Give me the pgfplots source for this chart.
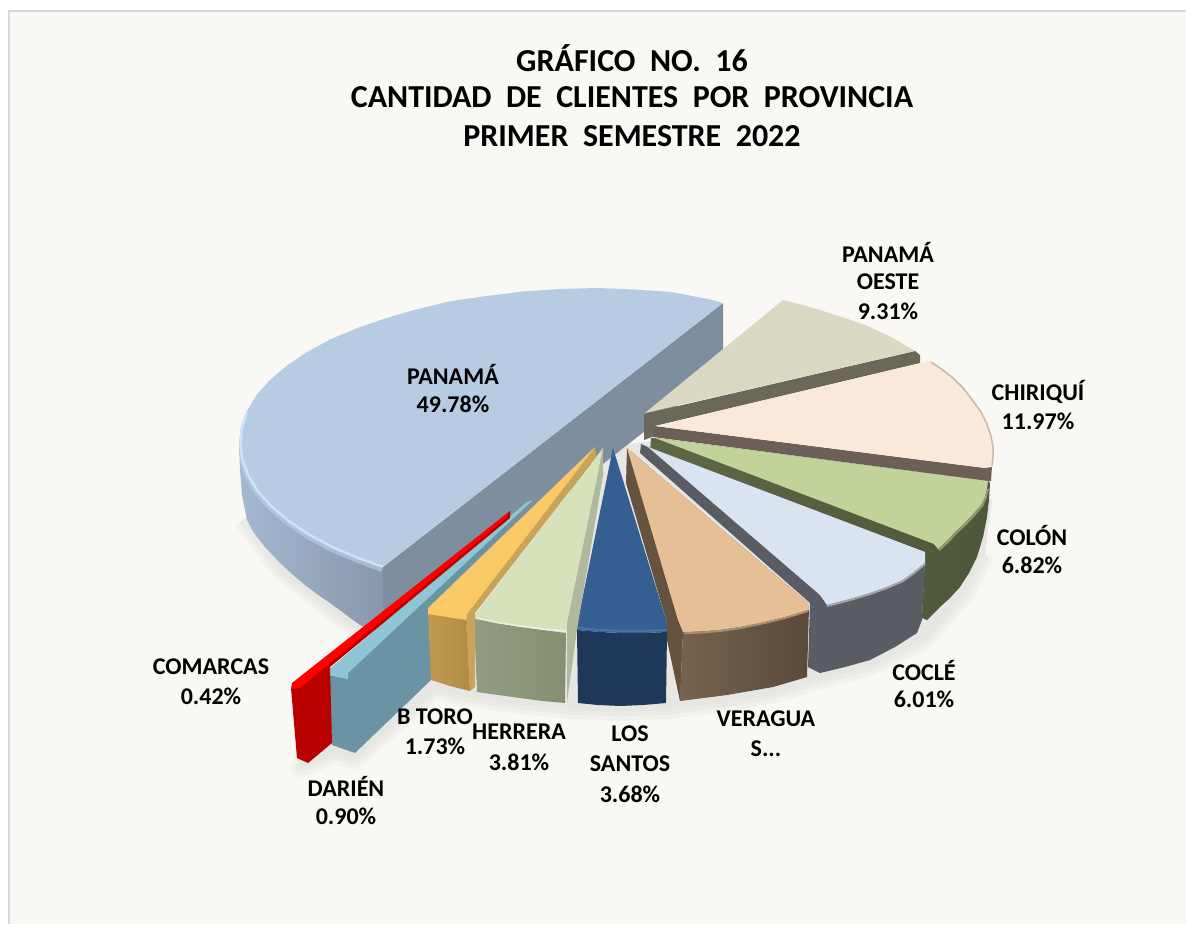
\documentclass[border=0pt]{standalone}
\usepackage{pgfplots}
\pgfplotsset{compat=1.18}
\usepackage{fontspec}
\setmainfont{Carlito}
\newcommand{\dc}[1]{\definecolor{c#1}{HTML}{#1}}
\dc{A5B8D2}\dc{8897AC}\dc{7F8E9F}\dc{B7CCE2}\dc{CDE1F8}\dc{6B685A}\dc{DAD8C3}\dc{6B5F57}\dc{FAE9DB}\dc{C9B9AB}
\dc{5E6746}\dc{4F573A}\dc{C1D398}\dc{595C62}\dc{DAE4F1}\dc{9FA6B0}\dc{655340}\dc{75634F}\dc{5A4A3A}\dc{E7BF96}
\dc{1F3858}\dc{355E92}\dc{4A72A5}\dc{AFB99B}\dc{929C80}\dc{858F72}\dc{D7E2BC}\dc{EDF3DC}\dc{C8A45A}\dc{C09A4E}
\dc{B08C46}\dc{F9C966}\dc{6A94A4}\dc{8FC6D6}\dc{B80000}\dc{FF0000}\dc{8F9C6E}\dc{A89070}\dc{BDD0E8}
\definecolor{bg}{HTML}{F9F8F4}
\definecolor{frm}{HTML}{D9D9D9}
\definecolor{shad}{HTML}{E6E6E2}
\tikzset{
 lab/.style={font=\fontsize{24}{24}\selectfont\bfseries,text=black,anchor=center,inner sep=0pt},
 ttl/.style={font=\fontsize{32}{32}\selectfont\bfseries,text=black,anchor=center,inner sep=0pt}
}
\begin{document}
\begin{tikzpicture}
\begin{axis}[width=1186pt,height=924pt,scale only axis,xmin=0,xmax=1186,ymin=0,ymax=924,y dir=reverse,hide axis,clip=true]
% background
\addplot[fill=white,draw=none] coordinates {(0,0)(1186,0)(1186,924)(0,924)} -- cycle;
\addplot[fill=bg,draw=none] coordinates {(8,10)(1186,10)(1186,924)(8,924)} -- cycle;
\addplot[draw=frm,line width=2pt] coordinates {(9,924)(9,11)(1186,11)};
% shadow
\addplot[fill=shad,draw=none] coordinates {(245,520)(280,570)(330,610)(360,632)(300,768)(335,755)(355,760)(435,690)(470,698)(520,705)(570,710)(620,712)(670,710)(730,702)(775,694)(820,680)(870,667)(925,640)(965,595)(985,555)(992,500)(660,440)(620,445)(300,500)} -- cycle;
\addplot[draw=shad,opacity=.35,line width=18pt,line join=round] coordinates {(243,520)(254,536)(280,570)(330,610)(360,632)(300,768)(335,755)(355,760)(435,690)(470,698)(520,705)(570,710)(620,712)(670,710)(730,702)(775,694)(820,680)(870,667)(925,640)(965,595)(985,555)};
\addplot[draw=shad,opacity=.6,line width=9pt,line join=round] coordinates {(243,520)(254,536)(280,570)(330,610)(360,632)(300,768)(335,755)(355,760)(435,690)(470,698)(520,705)(570,710)(620,712)(670,710)(730,702)(775,694)(820,680)(870,667)(925,640)(965,595)(985,555)};
% PANAMA
\addplot[draw=none,left color=cA5B8D2,right color=c8897AC] coordinates {(239,443)(240,470)(242,495)(247,520)(254,533)(265,547)(280,563)(292,574)(305,585)(317,594)(330,603)(345,614)(360,625)(383,636)(383,567)(357.5,558)(331,547)(307,534)(287,520.5)(270,506)(256.5,491)(247,475)(241,459)} -- cycle;
\addplot[fill=c7F8E9F,draw=none] coordinates {(723,303)(723,370)(383,636)(383,567)} -- cycle;
\addplot[fill=cB7CCE2,draw=none] coordinates {(723,303)(708,299)(671.4,292)(634.4,289.5)(597,288)(559.6,289)(522.6,291.5)(486.4,296)(451.4,301)(418,309)(386.6,318)(357.5,328)(331,339)(307,352)(287,365.5)(270,380)(256.5,395)(247,411)(241,427)(239,443)(241,459)(247,475)(256.5,491)(270,506)(287,520.5)(307,534)(331,547)(357.5,558)(383,567)} -- cycle;
\addplot[draw=cBDD0E8,opacity=.6,line width=6pt] coordinates {(242,459)(248,477)(257.5,493)(271,508)(288,522.5)(308,536)(332,549)(358,560)(382,569)};
\addplot[draw=cCDE1F8,line width=2.5pt,line cap=round] coordinates {(247,413)(242,427)(240.5,443)(242,459)(248,475)(257.5,491)(271,506)(288,520.5)(308,534)(332,547)(358,558)(382,566.5)};
% PANAMA OESTE
\addplot[fill=c6B685A,draw=none] coordinates {(644,414)(915,351)(920,355)(920,363)(655,426)(655,436)(644,440)} -- cycle;
\addplot[fill=cDAD8C3,draw=none] coordinates {(645,413)(783,300)(801,304.5)(820,310)(845,318)(870,327)(893,338)(915,351)} -- cycle;
% CHIRIQUI
\addplot[fill=c6B5F57,draw=none] coordinates {(655,426)(985,468)(992,466)(991,481)(988,481)(653,437)} -- cycle;
\addplot[fill=cFAE9DB,draw=none] coordinates {(655,426)(930,361)(942,368.5)(953,377)(964,388)(973,400)(981,411)(987,423)(991,435)(993,447)(993,457)(992,467)(985,468)} -- cycle;
\addplot[draw=cC9B9AB,line width=1.5pt] coordinates {(931,362)(942,369.5)(953,378)(964,389)(973,401)(981,412)(987,424)(991,436)(993,447)(993,457)(992,466)};
% COLON
\addplot[draw=none,left color=c5E6746,right color=c4F573A] coordinates {(651,438)(655,438)(988,481)(990,483)(989,500)(987,517)(983,537)(977,557)(969,573)(960,587)(950,598)(940,607)(927,620)(922,618)(925,557)(650,452)} -- cycle;
\addplot[fill=cC1D398,draw=none] coordinates {(655,438)(988,481)(987,489)(985,497)(981,505)(975,512)(965,523)(955,532)(947,541)(938,549)(934,544)} -- cycle;
\addplot[draw=c8F9C6E,line width=2pt] coordinates {(988,489)(986,497)(982,506)(976,513)(966,524)(956,533)(948,542)(939,550)};
% COCLE
\addplot[fill=c595C62,draw=none] coordinates {(641,444)(648,447)(925,552)(925,563)(922,620)(917,633)(895,647)(870,660)(845,667)(820,673)(808,667)(810,603)(640,453)} -- cycle;
\addplot[fill=cDAE4F1,draw=none] coordinates {(648,447)(925,552)(925,563)(914,572)(903,580)(887,587)(870,593)(850,599)(827,605)(820,595)} -- cycle;
\addplot[draw=c9FA6B0,line width=2pt] coordinates {(925,564)(914,573)(903,581)(887,588)(870,594)(850,600)(827,606)};
% VERAGUAS
\addplot[fill=c655340,draw=none] coordinates {(627,448)(808,603)(809,612)(683,633)(680,701)(667,640)(667,623)(626,483)} -- cycle;
\addplot[draw=none,left color=c75634F,right color=c5A4A3A] coordinates {(683,630)(809,608)(807,677)(790,682)(773,687)(750,691)(727,695)(680,701)} -- cycle;
\addplot[fill=cE7BF96,draw=none] coordinates {(627,448)(808,603)(809,610)(785,617)(760,623)(740,627)(720,630)(700,631.5)(683,632)(678,620)} -- cycle;
\addplot[draw=cA89070,line width=2pt] coordinates {(808,611)(785,618)(760,624)(740,628)(720,631)(700,632.5)(684,633)};
% LOS SANTOS
\addplot[fill=c1F3858,draw=none] coordinates {(577,630)(600,632)(623,633)(645,633)(667,632)(666,703)(643,705)(620,706)(598,705)(578,703)} -- cycle;
\addplot[fill=c355E92,draw=none] coordinates {(613,448)(667,623)(667,632)(645,633)(623,633)(600,632)(577,630)(577,625)} -- cycle;
\addplot[draw=c4A72A5,line width=2pt] coordinates {(578,628)(600,630)(623,631)(645,631)(666,630)};
% HERRERA
\addplot[fill=cAFB99B,draw=none] coordinates {(603,448)(603,475)(577,630)(567,702)(567,622)} -- cycle;
\addplot[draw=none,left color=c929C80,right color=c858F72] coordinates {(474,618)(497,623)(520,627)(543,630)(566,633)(565,703)(543,701)(520,698)(498,695)(477,692)} -- cycle;
\addplot[fill=cD7E2BC,draw=none] coordinates {(603,448)(567,622)(567,630)(543,628)(520,625)(497,622)(475,618)(475,615)} -- cycle;
\addplot[draw=cEDF3DC,line width=1.5pt] coordinates {(476,618)(497,622.5)(520,626)(543,629)(566,631)};
% DARIEN
\addplot[fill=c6A94A4,draw=none] coordinates {(533,500)(440,600)(431,680)(355,753)(332,745)(328,673)} -- cycle;
\addplot[fill=c8FC6D6,draw=none] coordinates {(527,502)(533,500)(348,673)(348,679)(328,675)(328,670)} -- cycle;
% B TORO
\addplot[fill=cC8A45A,draw=none] coordinates {(595,447)(596,457)(475,613)(475,687)(470,691)(466,620)(467,613)} -- cycle;
\addplot[draw=none,left color=cC09A4E,right color=cB08C46] coordinates {(428,612)(466,617)(470,691)(450,686)(431,680)} -- cycle;
\addplot[fill=cF9C966,draw=none] coordinates {(595,447)(467,614)(466,620)(428,614)(428,608)} -- cycle;
% COMARCAS
\addplot[fill=cB80000,draw=none] coordinates {(510,511)(510,518)(330,667)(332,743)(308,763)(297,758)(291,688)(300,686)} -- cycle;
\addplot[fill=cFF0000,draw=none] coordinates {(510,511)(505,519)(300,688)(291,689)(292,683)} -- cycle;
% TEXT
\node[ttl] at (axis cs:632,58) {GRÁFICO\ \ NO.\ \ 16};
\node[ttl] at (axis cs:632,97) {CANTIDAD\ \ DE\ \ CLIENTES\ \ POR\ \ PROVINCIA};
\node[ttl] at (axis cs:632,136) {PRIMER\ \ SEMESTRE\ \ 2022};
\node[lab] at (axis cs:453,374) {PANAMÁ};
\node[lab] at (axis cs:453,404) {49.78\%};
\node[lab] at (axis cs:888,252) {PANAMÁ};
\node[lab] at (axis cs:888,282) {OESTE};
\node[lab] at (axis cs:888,311) {9.31\%};
\node[lab] at (axis cs:1038,392) {CHIRIQUÍ};
\node[lab] at (axis cs:1038,421) {11.97\%};
\node[lab] at (axis cs:1032,535) {COLÓN};
\node[lab] at (axis cs:1032,565) {6.82\%};
\node[lab] at (axis cs:924,670) {COCLÉ};
\node[lab] at (axis cs:924,699) {6.01\%};
\node[lab] at (axis cs:766,719) {VERAGUA};
\node[lab] at (axis cs:766,749) {S...};
\node[lab] at (axis cs:630,734) {LOS};
\node[lab] at (axis cs:630,764) {SANTOS};
\node[lab] at (axis cs:630,794) {3.68\%};
\node[lab] at (axis cs:519,732) {HERRERA};
\node[lab] at (axis cs:519,762) {3.81\%};
\node[lab] at (axis cs:435,717) {B TORO};
\node[lab] at (axis cs:435,746) {1.73\%};
\node[lab] at (axis cs:346,786) {DARIÉN};
\node[lab] at (axis cs:346,816) {0.90\%};
\node[lab] at (axis cs:211,667) {COMARCAS};
\node[lab] at (axis cs:211,696) {0.42\%};
\end{axis}
\end{tikzpicture}
\end{document}
